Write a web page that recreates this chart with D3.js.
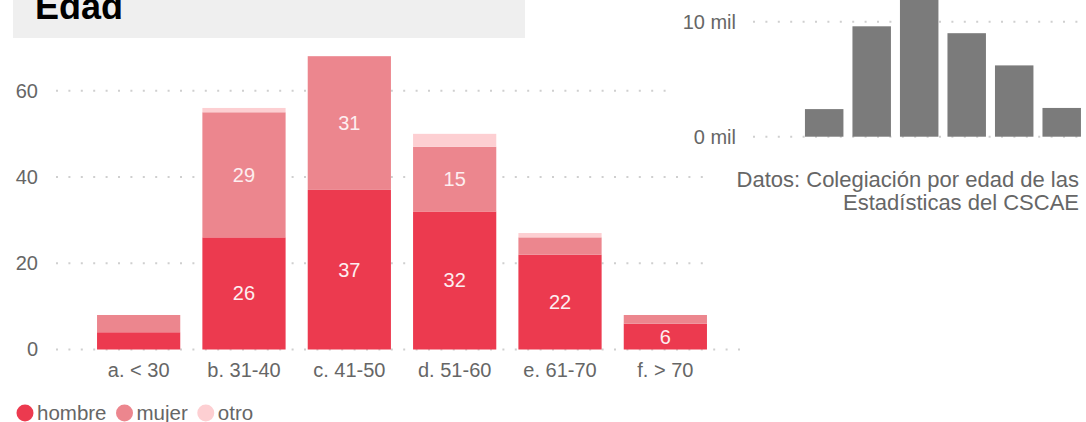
<!DOCTYPE html>
<html>
<head>
<meta charset="utf-8">
<script src="https://cdn.jsdelivr.net/npm/d3@7"></script>
<style>
  body { margin: 0; background: #fff; }
  svg { display: block; font-family: "Liberation Sans", Arial, sans-serif; }
</style>
</head>
<body>
<svg id="chart" width="1086" height="422"></svg>
<script>
// main chart data (colegiados por edad y sexo)
const categories = ["a. < 30", "b. 31-40", "c. 41-50", "d. 51-60", "e. 61-70", "f. > 70"];
const hombre = [4, 26, 37, 32, 22, 6];
const mujer = [4, 29, 31, 15, 4, 2];
const otro = [0, 1, 0, 3, 1, 0];
const yTicks = [0, 20, 40, 60];

// inset: total CSCAE, miles
const insetValues = [2.4, 9.6, 12.4, 9.0, 6.2, 2.5];
const insetTicks = [0, 10];

const seriesNames = ["hombre", "mujer", "otro"];
const colors = { hombre: "#ec3a4f", mujer: "#ec868e", otro: "#fdcfd2" };

const svg = d3.select("#chart");

// ---- title
svg.append("rect").attr("x", 13).attr("y", -5).attr("width", 512).attr("height", 43).attr("fill", "#efefef");
svg.append("text").attr("x", 35).attr("y", 19)
  .attr("font-size", 36).attr("font-weight", "bold").attr("fill", "#000").text("Edad");

// ---- main chart
const x = d3.scaleBand().domain(categories).range([86.5, 717.5]).paddingInner(0.21).paddingOuter(0.1);
const y = d3.scaleLinear().domain([0, 60]).range([349.5, 90.7]);

const rows = categories.map((c, i) => ({ cat: c, hombre: hombre[i], mujer: mujer[i], otro: otro[i] }));
const stacked = d3.stack().keys(seriesNames)(rows);

const grid = svg.append("g");
grid.selectAll("line").data(yTicks).join("line")
  .attr("x1", 56).attr("x2", 750)
  .attr("y1", d => y(d)).attr("y2", d => y(d))
  .attr("stroke", "#cfcfcf").attr("stroke-width", 2).attr("stroke-dasharray", "2,10.4");

const yAxis = d3.axisLeft(y).tickValues(yTicks).tickSize(0).tickPadding(0);
svg.append("g").attr("transform", "translate(38,0)").call(yAxis)
  .call(g => g.select(".domain").remove())
  .selectAll("text").attr("font-size", 20).attr("fill", "#666").attr("font-family", null);

const layers = svg.append("g").selectAll("g").data(stacked).join("g")
  .attr("fill", d => colors[d.key]);
layers.selectAll("rect").data(d => d).join("rect")
  .attr("x", d => x(d.data.cat))
  .attr("width", x.bandwidth())
  .attr("y", d => y(d[1]))
  .attr("height", d => y(d[0]) - y(d[1]));

// value labels inside big segments
const labels = [];
stacked.forEach(s => s.forEach(d => {
  const v = d[1] - d[0];
  if (v >= 5) labels.push({ cat: d.data.cat, v: v, mid: (d[0] + d[1]) / 2 });
}));
svg.append("g").selectAll("text").data(labels).join("text")
  .attr("x", d => x(d.cat) + x.bandwidth() / 2)
  .attr("y", d => y(d.mid))
  .attr("dy", "0.35em")
  .attr("text-anchor", "middle")
  .attr("font-size", 20).attr("fill", "#fdeef0")
  .text(d => d.v);

const xAxis = d3.axisBottom(x).tickSize(0).tickPadding(0);
svg.append("g").attr("transform", "translate(0,377)").call(xAxis)
  .call(g => g.select(".domain").remove())
  .selectAll("text").attr("font-size", 20).attr("fill", "#666").attr("font-family", null)
  .attr("dy", "0");

// ---- legend
const legend = svg.append("g").attr("transform", "translate(0,413)");
let lx = 17;
seriesNames.forEach(k => {
  legend.append("circle").attr("cx", lx + 8).attr("cy", 0).attr("r", 8.5).attr("fill", colors[k]);
  const t = legend.append("text").attr("x", lx + 20).attr("y", 0).attr("dy", "0.33em")
    .attr("font-size", 20.5).attr("fill", "#666").text(k);
  lx += 20 + t.node().getComputedTextLength() + 10;
});

// ---- inset chart (total colegiados)
const inset = svg.append("g");
inset.append("rect").attr("x", 672).attr("y", 0).attr("width", 414).attr("height", 150).attr("fill", "#fff");
inset.append("rect").attr("x", 703).attr("y", 150).attr("width", 383).attr("height", 150).attr("fill", "#fff");

const xi = d3.scaleBand().domain(categories).range([800.2, 1085.7]).paddingInner(0.19).paddingOuter(0.1);
const yi = d3.scaleLinear().domain([0, 10]).range([136.7, 21.7]);

inset.append("g").selectAll("line").data(insetTicks).join("line")
  .attr("x1", 753).attr("x2", 1086)
  .attr("y1", d => yi(d)).attr("y2", d => yi(d))
  .attr("stroke", "#cfcfcf").attr("stroke-width", 2).attr("stroke-dasharray", "2,10.4");

inset.append("g").attr("transform", "translate(736,0)")
  .call(d3.axisLeft(yi).tickValues(insetTicks).tickSize(0).tickPadding(0).tickFormat(d => d + " mil"))
  .call(g => g.select(".domain").remove())
  .selectAll("text").attr("font-size", 20).attr("fill", "#666").attr("font-family", null);

inset.append("g").selectAll("rect").data(insetValues).join("rect")
  .attr("x", (d, i) => xi(categories[i]))
  .attr("width", xi.bandwidth())
  .attr("y", d => yi(d))
  .attr("height", d => yi(0) - yi(d))
  .attr("fill", "#7b7b7b");

const note = inset.append("text").attr("text-anchor", "end").attr("font-size", 22).attr("fill", "#666");
note.append("tspan").attr("x", 1079).attr("y", 187).text("Datos: Colegiación por edad de las");
note.append("tspan").attr("x", 1079).attr("y", 210).text("Estadísticas del CSCAE");
</script>
</body>
</html>
